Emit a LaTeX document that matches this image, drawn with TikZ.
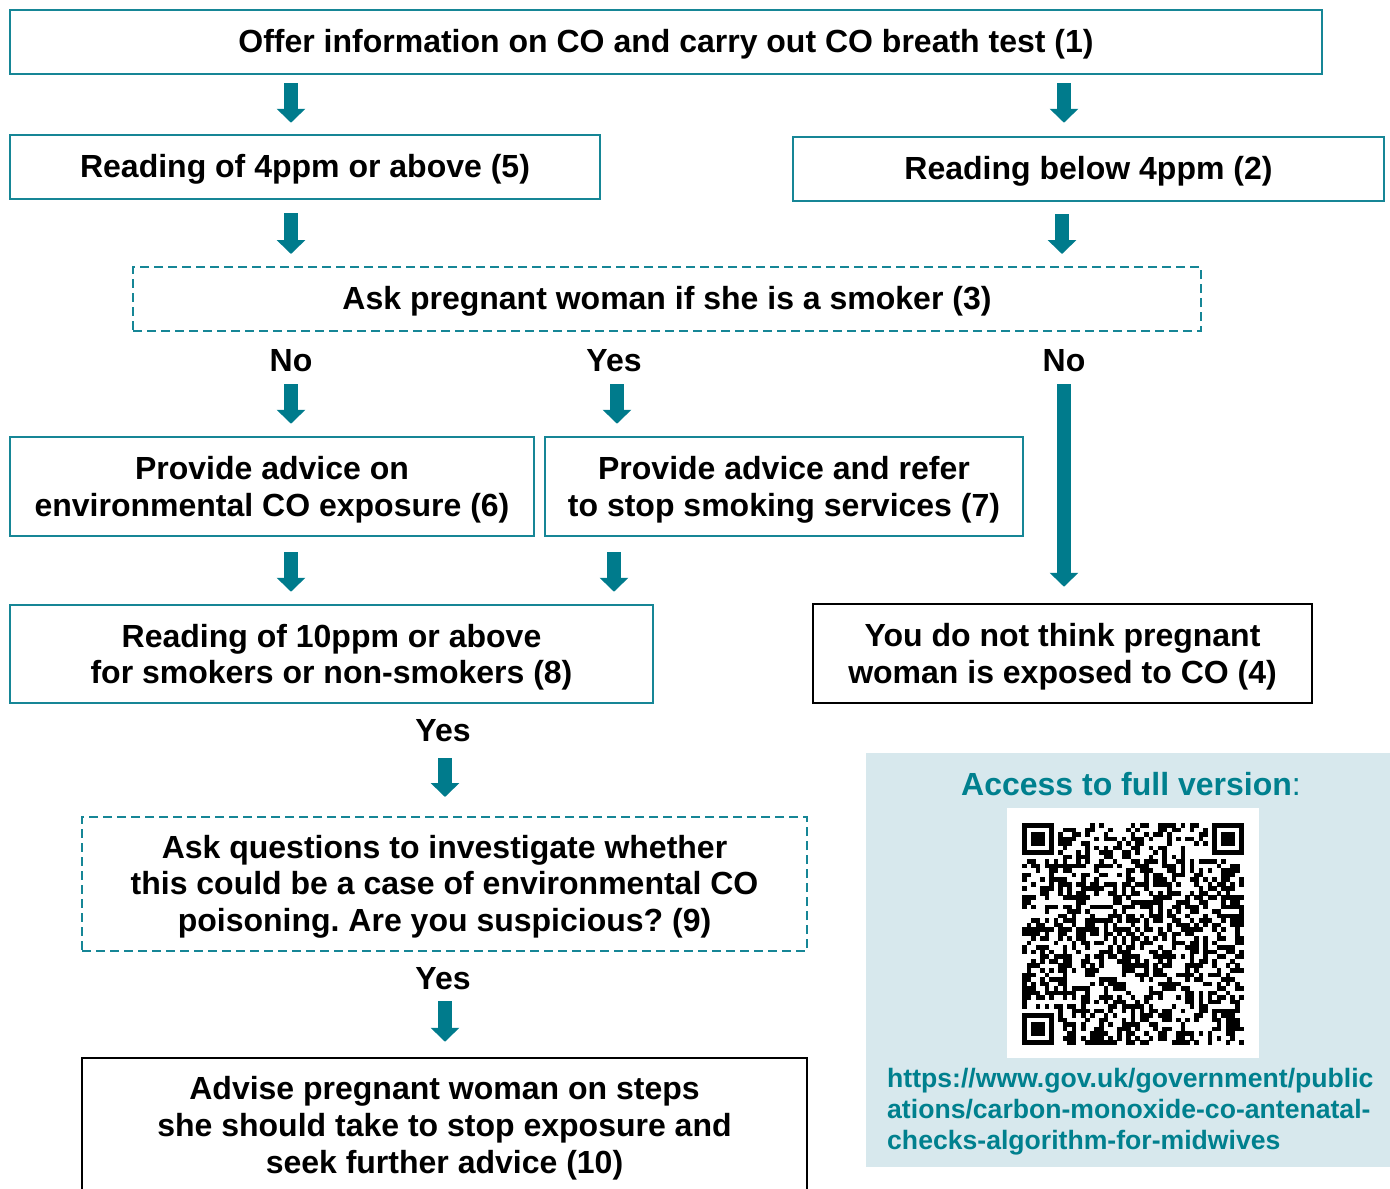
\documentclass[tikz,border=0pt]{standalone}
\usepackage{fontspec}
\setmainfont{Liberation Sans}
\usetikzlibrary{arrows.meta,calc}
\definecolor{tealb}{RGB}{22,134,150}
\definecolor{teala}{RGB}{0,123,140}
\definecolor{tealt}{RGB}{0,128,142}
\definecolor{panelbg}{RGB}{215,232,237}
\newcommand\qrfinder[2]{%
  \fill[black] (#1,#2) rectangle ++(31.71,31.71);
  \fill[white] ({#1+4.53},{#2+4.53}) rectangle ++(22.65,22.65);
  \fill[black] ({#1+9.06},{#2+9.06}) rectangle ++(13.59,13.59);}
\frenchspacing
\begin{document}
\begin{tikzpicture}[x=1pt,y=-1pt,
  mainfont/.style={font=\fontsize{32}{36.8}\selectfont\bfseries},
  box/.style={draw=tealb,line width=2.5pt,inner sep=0pt,align=center,mainfont,
    execute at begin node={\rule{0pt}{28.5pt}}},
  multi/.style={execute at begin node={\rule{0pt}{#1}}},
  blackbox/.style={box,draw=black},
  dashbox/.style={box,line width=2pt,dash pattern=on 9pt off 5pt},
  lbl/.style={inner sep=0pt,mainfont},
  barrow/.style={draw=teala,line width=14pt,-{Triangle[width=28pt,length=14pt]}}
]
\useasboundingbox (0,0) rectangle (1390,1189);

% boxes
\node[box,minimum width=1312pt,minimum height=64pt] (n1) at (666,42) {Offer information on CO and carry out CO breath test (1)};
\node[box,minimum width=590pt,minimum height=64pt] (n5) at (305,167) {Reading of 4ppm or above (5)};
\node[box,minimum width=591pt,minimum height=64pt] (n2) at (1088.5,169) {Reading below 4ppm (2)};
\node[dashbox,minimum width=1068pt,minimum height=64pt] (n3) at (667,299) {Ask pregnant woman if she is a smoker (3)};
\node[box,multi=66pt,minimum width=524pt,minimum height=99pt] (n6) at (272,486.5) {Provide advice on\\environmental CO exposure (6)};
\node[box,multi=66pt,minimum width=478pt,minimum height=99pt] (n7) at (784,486.5) {Provide advice and refer\\to stop smoking services (7)};
\node[box,multi=66.5pt,minimum width=643pt,minimum height=98pt] (n8) at (331.5,654) {Reading of 10ppm or above\\for smokers or non-smokers (8)};
\node[blackbox,multi=66.5pt,minimum width=499pt,minimum height=99pt] (n4) at (1062.5,653.5) {You do not think pregnant\\woman is exposed to CO (4)};
\node[dashbox,multi=102pt,minimum width=725pt,minimum height=134pt] (n9) at (444.5,884) {Ask questions to investigate whether\\this could be a case of environmental CO\\poisoning. Are you suspicious? (9)};
\node[blackbox,multi=103pt,minimum width=725pt,minimum height=134pt] (n10) at (444.5,1125) {Advise pregnant woman on steps\\she should take to stop exposure and\\seek further advice (10)};

% labels
\node[lbl] (no1) at (291,361) {No};
\node[lbl] (yes1) at (614,361) {Yes};
\node[lbl] (no2) at (1064,361) {No};
\node[lbl] (yes3) at (443,731) {Yes};
\node[lbl] (yes4) at (443,979) {Yes};

% arrow columns
\coordinate (xa) at (291,0);
\coordinate (xb) at (1064,0);
\coordinate (xc) at (1062,0);
\coordinate (xd) at (617,0);
\coordinate (xe) at (614,0);
\coordinate (xf) at (445,0);

\draw[barrow,shorten <=8pt,shorten >=11pt] (n1.south -| xa) -- (n5.north -| xa);
\draw[barrow,shorten <=8pt,shorten >=13pt] (n1.south -| xb) -- (n2.north -| xb);
\draw[barrow,shorten <=13pt,shorten >=12pt] (n5.south -| xa) -- (n3.north -| xa);
\draw[barrow,shorten <=12pt,shorten >=12pt] (n2.south -| xc) -- (n3.north -| xc);
\draw[barrow,shorten <=23pt,shorten >=12pt] (no1.center -| xa) -- (n6.north -| xa);
\draw[barrow,shorten <=23pt,shorten >=12pt] (yes1.center -| xd) -- (n7.north -| xd);
\draw[barrow,shorten <=23pt,shorten >=16pt] (no2.center -| xb) -- (n4.north -| xb);
\draw[barrow,shorten <=15pt,shorten >=12pt] (n6.south -| xa) -- (n8.north -| xa);
\draw[barrow,shorten <=15pt,shorten >=12pt] (n7.south -| xe) -- (n8.north -| xe);
\draw[barrow,shorten <=27pt,shorten >=19pt] (yes3.center -| xf) -- (n9.north -| xf);
\draw[barrow,shorten <=22pt,shorten >=15pt] (yes4.center -| xf) -- (n10.north -| xf);

% access panel
\fill[panelbg] (866,753) rectangle (1390,1167);
\node[inner sep=0pt,text=tealt,mainfont] (acc) at (1131,784) {Access to full version\textmd{:}};
\node[fill=white,minimum width=252pt,minimum height=250pt,inner sep=0pt] (qr) at (1133,933) {};
\qrfinder{1022}{823}
\qrfinder{1212.26}{823}
\qrfinder{1022}{1013.26}
\pgfmathsetseed{24680}
\foreach \i in {0,...,48}{
  \foreach \j in {0,...,48}{
    \pgfmathrandominteger{\qrr}{0}{99}
    \pgfmathtruncatemacro{\qrskip}{or(or(and(\i<8,\j<8),and(\i>40,\j<8)),and(\i<8,\j>40))}
    \ifnum\qrskip=0\relax
      \ifnum\qrr<50\relax
        \fill[black] ({1022+\i*4.53},{823+\j*4.53}) rectangle ++(4.6,4.6);
      \fi
    \fi
  }
}
\node[anchor=west,inner sep=0pt,align=left,text=tealt,font=\fontsize{26.6}{31}\selectfont\bfseries] (url) at (887,1112) {https://www.gov.uk/government/public\\ations/carbon-monoxide-co-antenatal-\\checks-algorithm-for-midwives};
\end{tikzpicture}
\end{document}
